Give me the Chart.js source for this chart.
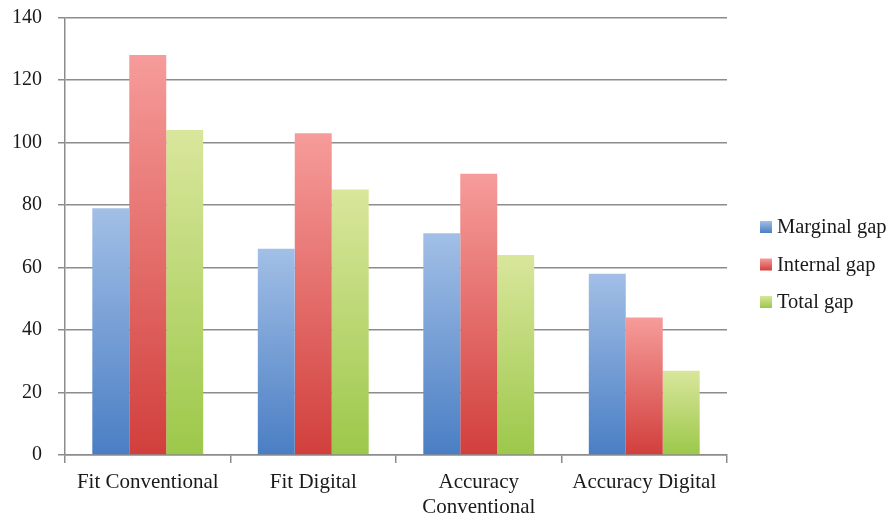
<!DOCTYPE html>
<html>
<head>
<meta charset="utf-8">
<script src="https://cdn.jsdelivr.net/npm/chart.js@4/dist/chart.umd.min.js"></script>
<style>
  html, body { margin: 0; padding: 0; background: #fff; }
  #wrap { width: 894px; height: 518px; }
</style>
</head>
<body>
<div id="wrap"><canvas id="chart"></canvas></div>
<script>
const categories = [['Fit Conventional'], ['Fit Digital'], ['Accuracy', 'Conventional'], ['Accuracy Digital']];
const seriesNames = ['Marginal gap', 'Internal gap', 'Total gap'];
const marginalGap = [79, 66, 71, 58];
const internalGap = [128, 103, 90, 44];
const totalGap = [104, 85, 64, 27];
const yTicks = [0, 20, 40, 60, 80, 100, 120, 140];

// light (top) -> dark (bottom) for each series
const shades = [
  ['#a2bfe6', '#4a7ec4'],
  ['#f69c9a', '#d13f3c'],
  ['#d9e69c', '#9cc84a']
];

function barFill(idx) {
  return (ctx) => {
    const chart = ctx.chart;
    if (!chart.chartArea || ctx.parsed == null) return shades[idx][1];
    const y = chart.scales.y;
    const top = y.getPixelForValue(ctx.parsed.y);
    const bottom = y.getPixelForValue(0);
    const g = chart.ctx.createLinearGradient(0, top, 0, bottom);
    g.addColorStop(0, shades[idx][0]);
    g.addColorStop(1, shades[idx][1]);
    return g;
  };
}

// legend drawn on the right, with gradient squares
const sideLegend = {
  id: 'sideLegend',
  afterDraw(chart) {
    const c = chart.ctx;
    const x = 760, size = 12;
    c.save();
    c.font = '20.5px "Liberation Serif", serif';
    c.textBaseline = 'middle';
    chart.data.datasets.forEach((ds, i) => {
      const cy = 227 + i * 37.5;
      const g = c.createLinearGradient(0, cy - size / 2, 0, cy + size / 2);
      g.addColorStop(0, shades[i][0]);
      g.addColorStop(1, shades[i][1]);
      c.fillStyle = g;
      c.fillRect(x, cy - size / 2, size, size);
      c.fillStyle = '#1a1a1a';
      c.fillText(ds.label, x + size + 5, cy + 1);
    });
    c.restore();
  }
};

const data = [marginalGap, internalGap, totalGap];

new Chart(document.getElementById('chart'), {
  type: 'bar',
  data: {
    labels: categories,
    datasets: seriesNames.map((name, i) => ({
      label: name,
      data: data[i],
      backgroundColor: barFill(i),
      borderWidth: 0,
      barPercentage: 1.0,
      categoryPercentage: 0.67
    }))
  },
  options: {
    responsive: true,
    maintainAspectRatio: false,
    animation: false,
    layout: { padding: { top: 17.5, right: 167, left: 0, bottom: 0 } },
    plugins: {
      legend: { display: false },
      tooltip: { enabled: false }
    },
    scales: {
      x: {
        afterFit: (axis) => { axis.height = 63; },
        grid: {
          display: true,
          drawOnChartArea: false,
          offset: true,
          color: '#8c8c8c',
          lineWidth: 1.5,
          tickLength: 8
        },
        border: { color: '#8c8c8c', width: 1.5 },
        ticks: {
          color: '#1a1a1a',
          font: { family: '"Liberation Serif", serif', size: 21 },
          maxRotation: 0,
          autoSkip: false,
          padding: 7
        }
      },
      y: {
        min: 0,
        max: 140,
        afterBuildTicks: (axis) => { axis.ticks = yTicks.map(v => ({ value: v })); },
        afterFit: (axis) => {
          axis.width = 65;
          axis.paddingTop = 0;
          axis.paddingBottom = 0;
        },
        grid: {
          color: '#8c8c8c',
          lineWidth: 1.5,
          tickLength: 7
        },
        border: { color: '#8c8c8c', width: 1.5 },
        ticks: {
          color: '#1a1a1a',
          font: { family: '"Liberation Serif", serif', size: 20 },
          padding: 16
        }
      }
    }
  },
  plugins: [sideLegend]
});
</script>
</body>
</html>
